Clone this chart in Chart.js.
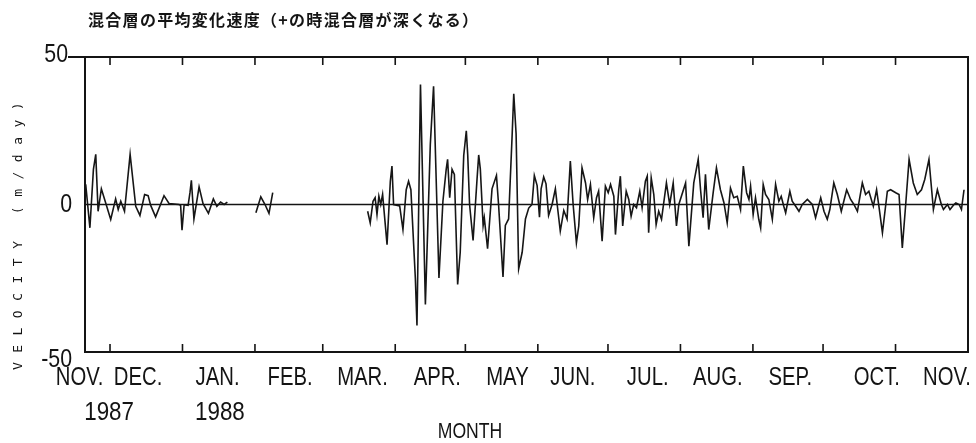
<!DOCTYPE html>
<html>
<head>
<meta charset="utf-8">
<script src="https://cdn.jsdelivr.net/npm/chart.js@4.4.1/dist/chart.umd.min.js"></script>
<style>
  body { margin: 0; background: #fff; }
</style>
</head>
<body>
<canvas id="chart1" width="976" height="443"></canvas>
<script>
// START OF DATA
// x = day counted from 1 Nov 1987, y = velocity (m/day)
const segNovJan = [
  [19.6, 6.8], [21.4, -7.9], [22.9, 11.9], [23.9, 17], [24.9, -2.3], [26.3, 5.3], [27.7, 1.7],
  [30.3, -5.1], [32.4, 1.9], [33.5, -1.7], [34.6, 1.1], [36.2, -2.3], [38.6, 17], [41, -0.6],
  [42.8, -3.7], [44.8, 3.4], [46.3, 3], [47.4, -0.3], [49.5, -4.2], [53.1, 3], [55.3, 0.3],
  [59.5, 0], [60.2, -0.3], [60.8, -8.7], [61.7, -0.1], [63.4, -0.3], [64.2, 4], [64.8, 8.2],
  [65.9, -4.9], [68.1, 6], [69.8, 0.3], [72.1, -3], [74.2, 1.9], [75.7, -0.6], [77.3, 0.8],
  [78.8, 0], [80.2, 0.8]
];
const segFeb = [
  [92.4, -2.8], [94.5, 2.6], [96.3, 0], [98, -3], [99.6, 4]
];
const segMarMay = [
  [140.2, -2.3], [141.3, -6.2], [142.5, 1.1], [143.4, 2.3], [144.2, -3.4], [145, 2.8], [145.8, 0],
  [146.6, 3.4], [148.5, -13.6], [149.9, 7.9], [150.6, 13], [151.3, 0],
  [153.9, -0.5], [155.3, -8.5], [156.7, 5], [157.7, 7.9], [158.7, 5], [160.6, -24.9], [161.3, -41],
  [162.8, 40.7], [164.9, -33.9], [167, 20.3], [168.4, 40.1], [170.7, -24.9], [172.4, 1.1],
  [173.8, 11.9], [174.4, 15.3], [175.3, 2.3], [176.3, 11.9], [177.3, 10.2], [178.7, -27.1],
  [179.8, -16.2], [181.3, 16.6], [182.4, 25], [183, 17], [183.8, 0], [185.3, -12.2], [187, 8.7],
  [187.7, 16.8], [188.4, 12], [189.6, -7.1], [190.1, -4.5], [191.5, -15], [193.4, 5.3],
  [195.3, 9.8], [196.2, 0], [198.1, -24.6], [199.1, -7.1], [200.5, -4.9], [202, 23.4],
  [202.7, 37.5], [203.7, 24], [204.8, -21.8], [206.3, -16.2], [207.7, -4.9], [209.1, -1.2],
  [210.5, 0], [211.5, 9.8], [212.7, 6.4]
];
const segJunJul = [
  [213.7, -4.3], [214.4, 5.3], [215.5, 9.3], [216.5, 7], [217.6, -3.7], [219.1, 0], [220.5, 5.3],
  [221.2, 0.5], [222.6, -9], [224.1, -2], [225.5, -4.9], [226.9, 14.7], [228.1, 0], [229.5, -13],
  [230.5, -7.3], [231.9, 12.4], [233.4, 7.3], [234.3, 1.7], [235.5, 6.8], [236.9, -4.5],
  [238.1, 2.3], [239, 4.5], [240.5, -12.4], [241.9, 6.2], [243.1, 4], [244.1, 6.8], [245.5, 2.8],
  [246.2, -10.2], [247.6, 5], [248.3, 9.6], [249.3, -7.3], [250.8, 4.5], [251.9, 1.7], [252.9, -4],
  [254, 0], [255.2, -1.1], [256.6, 4.5], [257.6, -1.1], [259, 7.9], [259.8, 9.6], [260.4, -9.6],
  [261.5, 9], [262.6, 3.4], [263.6, -6.8], [264.7, -2.3], [265.9, -5], [268, 7.3], [269.4, 0],
  [270.9, 7.3], [272.3, -7.3], [273.3, 0]
];
const segAugSep = [
  [276.2, 7.3], [277.6, -14.1], [279.7, 7.3], [281.6, 15.3], [282.6, 5], [283.7, -4.5],
  [284.7, 10.2], [286.1, -8.5], [288, 4], [289.4, 12.4], [291.1, 5], [292.6, 0.6], [294, -6.2],
  [295.4, 5.6], [296.8, 2.3], [298.3, 2.8], [299.7, -1.7], [300.9, 13], [302.3, 4], [303.3, 1.7],
  [304, 6.2], [305.1, -3.4], [306.1, 2.3], [307.5, -5], [308.3, -7.9], [309.4, 6.8], [310.4, 3.4],
  [311.8, 1.7], [313.3, -5], [314.7, 6.8], [316.1, 1.1], [317.1, 2.8], [318.2, -0.6], [319, -2.8],
  [320.8, 4.5], [321.8, 1.1], [323.3, -0.6], [324.7, -2.3], [326.1, 0], [328.3, 1.7], [330.4, 0],
  [331.8, -4.5], [334, 2.3]
];
const segOctNov = [
  [335.4, -2.3], [336.8, -5], [337.9, -1.7], [339.6, 7.3], [341.1, 3.4], [342.8, -2.3], [345.1, 5],
  [346.8, 1.7], [348.2, 0], [349.7, -2.3], [351.8, 7.3], [353.2, 3.4], [354.6, 4.5], [356.5, -0.6],
  [357.9, 5], [358.9, -0.6], [360.4, -9.6], [362.5, 4.5], [363.9, 5], [366.1, 4], [367.5, 3.4],
  [368.9, -14.7], [370.3, -0.5], [371.8, 15.3], [373.6, 7.3], [375.3, 3.4], [377.1, 5],
  [378.5, 8.5], [380.3, 15.3], [382.2, -1.7], [383.9, 5], [385.6, 0], [386.5, -1.7], [388.2, 0],
  [389.3, -1.7], [391, 0], [391.8, 0.5], [393.2, 0], [394.2, -1.7], [395.3, 5]
];

const monthStarts = [30, 61, 92, 121, 152, 182, 213, 243, 274, 305, 335, 366];
const monthNames = ['NOV.', 'DEC.', 'JAN.', 'FEB.', 'MAR.', 'APR.', 'MAY', 'JUN.', 'JUL.', 'AUG.', 'SEP.', 'OCT.', 'NOV.'];
const monthLabelDays = [17, 42, 76, 107, 138, 170, 200, 228, 260, 290, 321, 358, 388];
const yearNames = ['1987', '1988'];
const yearLabelDays = [29.6, 77];
const yTicks = [50, 0, -50];
const yTickNames = ['50', '0', '-50'];
// END OF DATA


// START OF SERIES BUILD
function toPoints(seg) {
    return seg.map(p => ({ x: p[0], y: p[1] }));
}
function gapAfter(seg) {
    return { x: seg[seg.length - 1][0] + 0.5, y: null };
}
const points = [
    ...toPoints(segNovJan), gapAfter(segNovJan),
    ...toPoints(segFeb), gapAfter(segFeb),
    ...toPoints(segMarMay), ...toPoints(segJunJul), ...toPoints(segAugSep), ...toPoints(segOctNov)
];
// END OF SERIES BUILD


// START OF FRAME + TEXT PLUGIN
const plotFont = '"Liberation Sans", Arial, sans-serif';

// plotter lettering is narrow, so squeeze the glyphs sideways
function narrowText(ctx, text, px, py, align, squeeze) {
    ctx.save();
    ctx.translate(px, py);
    ctx.scale(squeeze, 1);
    ctx.textAlign = align;
    ctx.fillText(text, 0, 0);
    ctx.restore();
}

const plotterFrame = {
    id: 'plotterFrame',
    afterDraw(chart) {
        const ctx = chart.ctx;
        const a = chart.chartArea;
        const x = chart.scales.x;
        const y = chart.scales.y;
        ctx.save();
        ctx.strokeStyle = '#141414';
        ctx.fillStyle = '#141414';

        // frame
        ctx.lineWidth = 2;
        ctx.strokeRect(a.left, a.top, a.right - a.left, a.bottom - a.top);
        ctx.beginPath();
        ctx.moveTo(a.left - 17, a.top);
        ctx.lineTo(a.left, a.top);
        ctx.stroke();

        // zero line
        ctx.lineWidth = 1.6;
        const y0 = y.getPixelForValue(0);
        ctx.beginPath();
        ctx.moveTo(a.left, y0);
        ctx.lineTo(a.right, y0);
        ctx.stroke();

        // inward month ticks
        monthStarts.forEach(d => {
            const px = x.getPixelForValue(d);
            ctx.beginPath();
            ctx.moveTo(px, a.top);
            ctx.lineTo(px, a.top + 8);
            ctx.moveTo(px, a.bottom);
            ctx.lineTo(px, a.bottom - 8);
            ctx.stroke();
        });

        // month + year labels
        ctx.font = '26px ' + plotFont;
        ctx.textBaseline = 'alphabetic';
        monthNames.forEach((m, i) => {
            narrowText(ctx, m, x.getPixelForValue(monthLabelDays[i]), a.bottom + 33, 'center', 0.78);
        });
        yearNames.forEach((t, i) => {
            narrowText(ctx, t, x.getPixelForValue(yearLabelDays[i]), a.bottom + 68, 'center', 0.86);
        });
        ctx.font = '22px ' + plotFont;
        narrowText(ctx, 'MONTH', a.left + 385, a.bottom + 86, 'center', 0.8);

        // y tick labels
        ctx.font = '26px ' + plotFont;
        ctx.textBaseline = 'middle';
        const yShift = [-2, 0, 8];
        yTicks.forEach((v, i) => {
            narrowText(ctx, yTickNames[i], i === 0 ? a.left - 17 : a.left - 13,
                y.getPixelForValue(v) + yShift[i], 'right', 0.82);
        });

        // y title
        ctx.save();
        ctx.translate(19, (a.top + a.bottom) / 2 + 27);
        ctx.rotate(-Math.PI / 2);
        ctx.font = '13px "DejaVu Sans Mono", monospace';
        ctx.letterSpacing = '9.5px';
        ctx.textAlign = 'center';
        ctx.textBaseline = 'middle';
        ctx.fillText('VELOCITY (m/day)', 0, 0);
        ctx.restore();

        // title
        ctx.font = 'bold 16px "Noto Sans CJK JP", sans-serif';
        ctx.letterSpacing = '1.3px';
        ctx.textAlign = 'left';
        ctx.textBaseline = 'middle';
        ctx.fillText('混合層の平均変化速度（+の時混合層が深くなる）', 88, 20);
        ctx.restore();
    }
};
// END OF FRAME + TEXT PLUGIN


// START OF GRAPH INIT
new Chart(document.getElementById('chart1'), {
    type: 'line',
    data: {
        datasets: [{
            data: points,
            borderColor: '#161616',
            borderWidth: 1.6,
            pointRadius: 0,
            tension: 0,
            spanGaps: false,
            fill: false
        }]
    },
    options: {
        responsive: false,
        animation: false,
        devicePixelRatio: 1,
        layout: { padding: { left: 85, right: 8, top: 57, bottom: 91 } },
        scales: {
            x: { type: 'linear', min: 19.3, max: 397, display: false },
            y: { min: -50, max: 50, display: false }
        },
        plugins: { legend: { display: false }, tooltip: { enabled: false } }
    },
    plugins: [plotterFrame]
});
// END OF GRAPH INIT
</script>
</body>
</html>
